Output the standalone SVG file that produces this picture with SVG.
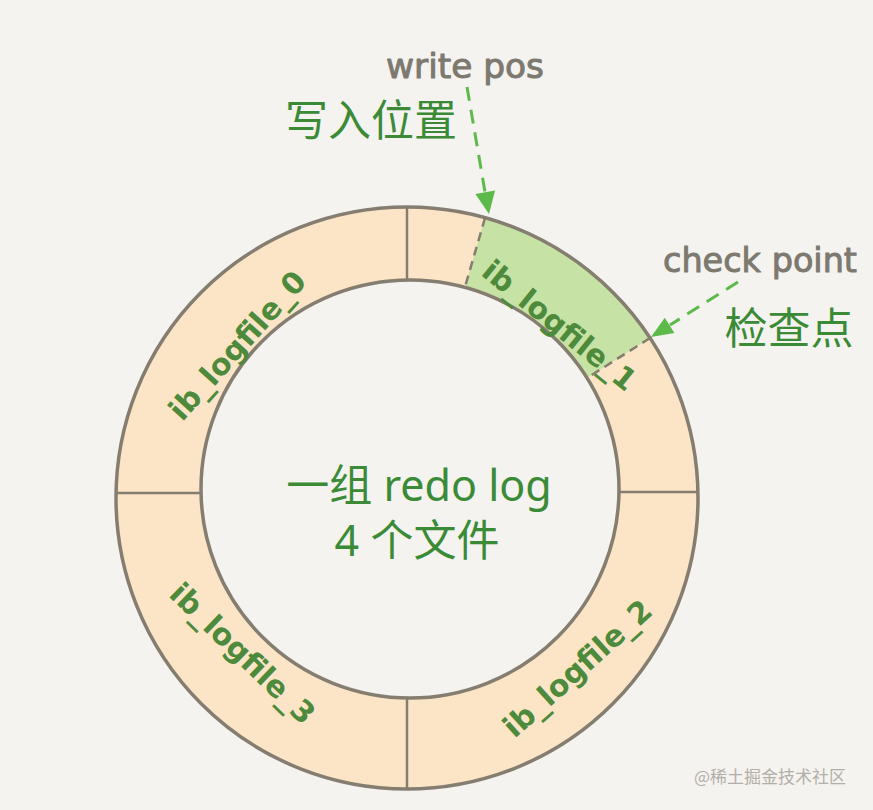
<svg xmlns="http://www.w3.org/2000/svg" width="873" height="810" viewBox="0 0 873 810">
<style>
.cn{font-family:"Noto Sans","Noto Sans CJK SC",sans-serif;fill:#3a8a36}
.hand{font-family:"DejaVu Sans","Liberation Sans",sans-serif;fill:#7d796f;stroke:#7d796f;stroke-width:1;stroke-linejoin:round}
.lbl{font-family:"DejaVu Sans","Liberation Sans",sans-serif;fill:#4d8a3c;font-weight:bold;font-size:30px}
.edge{stroke:#857d70;stroke-width:3.5;fill:none}
.div{stroke:#857d70;stroke-width:2.5;fill:none}
.dash{stroke:#857d70;stroke-width:2.5;fill:none;stroke-dasharray:9 6}
.arr{stroke:#5cba4a;stroke-width:3;fill:none;stroke-dasharray:14 9}
.head{fill:#5cba4a}
</style>
<rect width="873" height="810" fill="#f4f3ef"/>
<g id="ring">
<path d="M116,498 a291,291 0 1,0 582,0 a291,291 0 1,0 -582,0 Z M201,489 a209,209 0 1,0 418,0 a209,209 0 1,0 -418,0 Z" fill="#fbe5c6" fill-rule="evenodd"/>
<path d="M485,217.6 A291,291 0 0,1 650,338 L587,378 A209,209 0 0,0 465,287.4 Z" fill="#c6e2a4"/>
<line class="div" x1="407" y1="207" x2="407" y2="281"/>
<line class="div" x1="407" y1="697" x2="407" y2="789"/>
<line class="div" x1="116" y1="493" x2="201" y2="493"/>
<line class="div" x1="619" y1="492" x2="698" y2="492"/>
<line class="dash" x1="485" y1="218" x2="465" y2="287"/>
<line class="dash" x1="650" y1="338" x2="587" y2="378"/>
<circle class="edge" cx="407" cy="498" r="291"/>
<circle class="edge" cx="410" cy="489" r="209"/>
</g>
<g id="file0"><text class="lbl" transform="translate(237,345) rotate(-48)" text-anchor="middle" dy="11">ib_logfile_0</text></g>
<g id="file1"><text class="lbl" transform="translate(560,325) rotate(39)" text-anchor="middle" dy="11">ib_logfile_1</text></g>
<g id="file2"><text class="lbl" transform="translate(577,668) rotate(-42)" text-anchor="middle" dy="11">ib_logfile_2</text></g>
<g id="file3"><text class="lbl" transform="translate(243,653) rotate(44)" text-anchor="middle" dy="11">ib_logfile_3</text></g>
<g id="center"><text class="cn" x="419" y="501" font-size="43" text-anchor="middle">一组 redo log</text><text class="cn" x="417" y="556" font-size="43" text-anchor="middle">4 个文件</text></g>
<g id="writepos"><text class="hand" x="386" y="78" font-size="34" textLength="158" lengthAdjust="spacingAndGlyphs">write pos</text><text class="cn" x="371" y="136" font-size="43" text-anchor="middle">写入位置</text></g>
<g id="checkpoint"><text class="hand" x="663" y="272" font-size="34" textLength="194" lengthAdjust="spacingAndGlyphs">check point</text><text class="cn" x="789" y="344" font-size="43" text-anchor="middle">检查点</text></g>
<g id="connectors">
<line class="arr" x1="467" y1="87" x2="485" y2="192"/>
<polygon class="head" points="489,214 495,190.6 475.4,194"/>
<line class="arr" x1="738" y1="282" x2="670" y2="325"/>
<polygon class="head" points="651,337 674.4,332.9 664.8,317.7"/>
</g>
<text x="770" y="783" font-size="17" text-anchor="middle" font-family="Noto Sans CJK SC,sans-serif" fill="#b3afa8">@稀土掘金技术社区</text>
</svg>
